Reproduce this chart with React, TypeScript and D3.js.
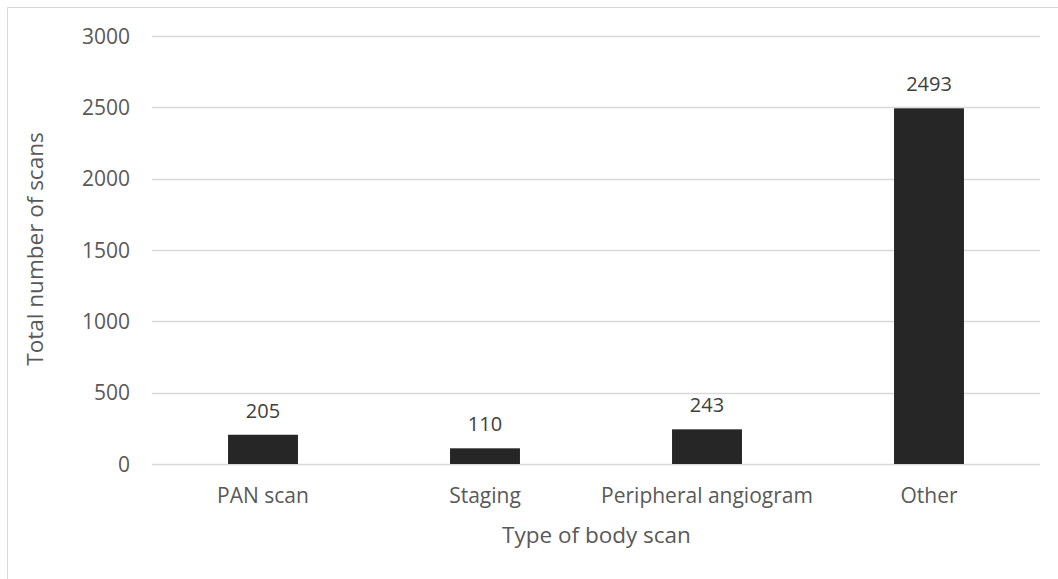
import React from "react";
import * as d3 from "d3";

const categories = ["PAN scan", "Staging", "Peripheral angiogram", "Other"];
const values = [205, 110, 243, 2493];
const yTicks = [0, 500, 1000, 1500, 2000, 2500, 3000];
const yTitle = "Total number of scans";
const xTitle = "Type of body scan";

const W = 1058;
const H = 579;
const FONT = "'Open Sans', sans-serif";

export default function App() {
  const left = 152, right = 1040, top = 36, bottom = 464;
  const x = d3.scaleBand<string>().domain(categories).range([left, right]).paddingInner(0.685).paddingOuter(0.3425);
  const y = d3.scaleLinear().domain([0, 3000]).range([bottom, top]);
  return (
    <svg width={W} height={H} style={{ position: "absolute", left: 0, top: 0, background: "#fff" }}>
      <rect x={7.5} y={7.5} width={W + 10} height={H + 10} fill="#fff" stroke="#d9d9d9" strokeWidth={1} />
      {yTicks.map((t) => (
        <g key={t}>
          <line x1={left} x2={right} y1={Math.round(y(t)) + 0.5} y2={Math.round(y(t)) + 0.5} stroke="#d9d9d9" strokeWidth={1.3} />
          <text x={130} y={y(t)} dy="0.36em" textAnchor="end" fontFamily={FONT} fontSize={21} fill="#595959">{t}</text>
        </g>
      ))}
      {categories.map((c, i) => (
        <g key={c}>
          <rect x={x(c)} y={y(values[i])} width={x.bandwidth()} height={y(0) - y(values[i])} fill="#262626" />
          <text x={x(c)! + x.bandwidth() / 2} y={y(values[i]) - 17} textAnchor="middle" fontFamily={FONT} fontSize={20} fill="#404040">{values[i]}</text>
          <text x={x(c)! + x.bandwidth() / 2} y={503} textAnchor="middle" fontFamily={FONT} fontSize={21} fill="#595959">{c}</text>
        </g>
      ))}
      <text transform={`translate(43,249) rotate(-90)`} textAnchor="middle" fontFamily={FONT} fontSize={22.5} fill="#595959">{yTitle}</text>
      <text x={596.5} y={543} textAnchor="middle" fontFamily={FONT} fontSize={22.5} fill="#595959">{xTitle}</text>
    </svg>
  );
}
